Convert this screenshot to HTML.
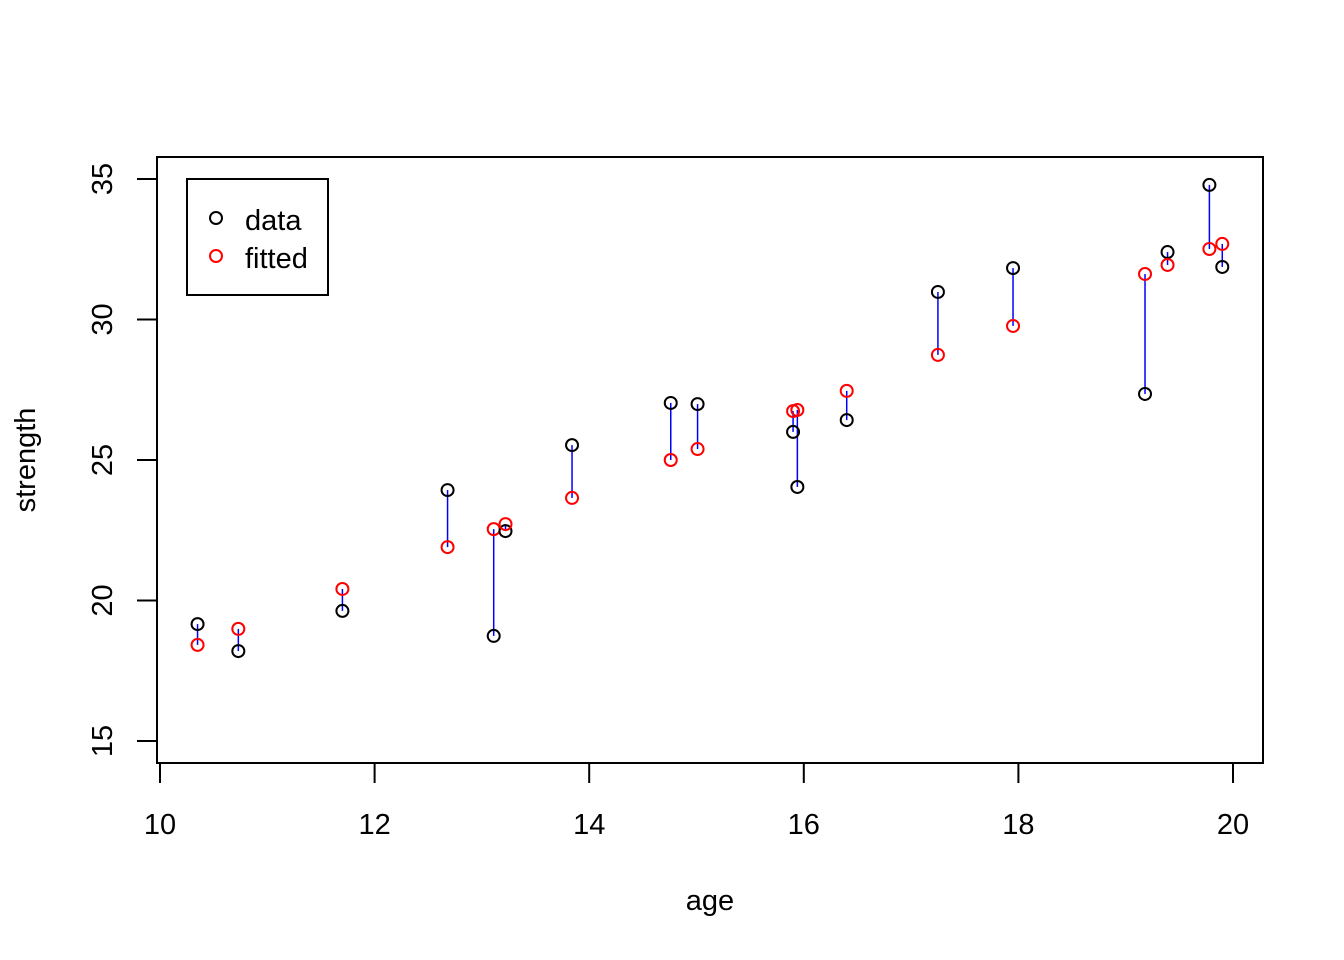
<!DOCTYPE html>
<html><head><meta charset="utf-8"><style>
html,body{margin:0;padding:0;background:#fff;}
svg{display:block;font-family:"Liberation Sans",Arial,sans-serif;}
</style></head><body>
<svg id="chart" width="1344" height="960" viewBox="0 0 1344 960" xmlns="http://www.w3.org/2000/svg">
<rect x="157" y="157" width="1106" height="606" fill="none" stroke="#000" stroke-width="2"/>
<g id="xaxis"></g>
<g id="yaxis"></g>
<g id="marks"></g>
<text x="710" y="910" font-size="29" text-anchor="middle">age</text>
<text transform="translate(35,460) rotate(-90)" font-size="29" text-anchor="middle">strength</text>
<g>
<rect x="187" y="179" width="141" height="116" fill="#fff" stroke="#000" stroke-width="2"/>
<circle cx="216" cy="218" r="6" fill="none" stroke="#000" stroke-width="2"/>
<text x="245" y="230" font-size="29">data</text>
<circle cx="216" cy="256" r="6" fill="none" stroke="#f00" stroke-width="2"/>
<text x="245" y="268" font-size="29">fitted</text>
</g>
</svg>
<script>
const ages = [10.35,10.73,11.70,12.68,13.11,13.22,13.84,14.76,15.01,15.90,15.94,16.40,17.25,17.95,19.18,19.39,19.78,19.90];
const strength = [19.16,18.20,19.63,23.93,18.74,22.47,25.53,27.03,26.99,26.00,24.04,26.42,30.98,31.83,27.35,32.40,34.79,31.87];
const fitted = [18.42,18.99,20.41,21.90,22.54,22.72,23.65,25.00,25.39,26.74,26.78,27.46,28.74,29.77,31.62,31.94,32.51,32.69];
const xTicks = [10,12,14,16,18,20];
const yTicks = [15,20,25,30,35];

const NS = "http://www.w3.org/2000/svg";
const xs = v => 160 + (v - 10) * 107.3;
const ys = v => 741 - (v - 15) * 28.1;
function mk(tag, attrs, parent) {
  const e = document.createElementNS(NS, tag);
  for (const k in attrs) e.setAttribute(k, attrs[k]);
  parent.appendChild(e);
  return e;
}
const xa = document.getElementById('xaxis');
mk('line', {x1: xs(10), x2: xs(20), y1: 763, y2: 763, stroke: '#000', 'stroke-width': 2}, xa);
xTicks.forEach(t => {
  const l = mk('line', {x1: xs(t), x2: xs(t), y1: 763, y2: 783, stroke: '#000', 'stroke-width': 2}, xa);
  
  
  const tx = mk('text', {x: xs(t), y: 834, 'font-size': 29, 'text-anchor': 'middle'}, xa);
  tx.textContent = t;
  
  
});
const ya = document.getElementById('yaxis');
mk('line', {x1: 157, x2: 157, y1: ys(15), y2: ys(35), stroke: '#000', 'stroke-width': 2}, ya);
yTicks.forEach(t => {
  const l = mk('line', {x1: 137, x2: 157, y1: ys(t), y2: ys(t), stroke: '#000', 'stroke-width': 2}, ya);
  
  
  const tx = mk('text', {'font-size': 29, 'text-anchor': 'middle', transform: 'translate(112,' + ys(t) + ') rotate(-90)'}, ya);
  tx.textContent = t;
  
  
});
const g = document.getElementById('marks');
ages.forEach((a, i) => {
  const l = mk('line', {x1: xs(a), x2: xs(a), y1: ys(strength[i]), y2: ys(fitted[i]), stroke: '#00f', 'stroke-width': 1.5}, g);
  
  
});
ages.forEach((a, i) => {
  const c = mk('circle', {cx: xs(a), cy: ys(strength[i]), r: 6, fill: 'none', stroke: '#000', 'stroke-width': 2}, g);
  
  
  const f = mk('circle', {cx: xs(a), cy: ys(fitted[i]), r: 6, fill: 'none', stroke: '#f00', 'stroke-width': 2}, g);
  
  
});
</script>
</body></html>
